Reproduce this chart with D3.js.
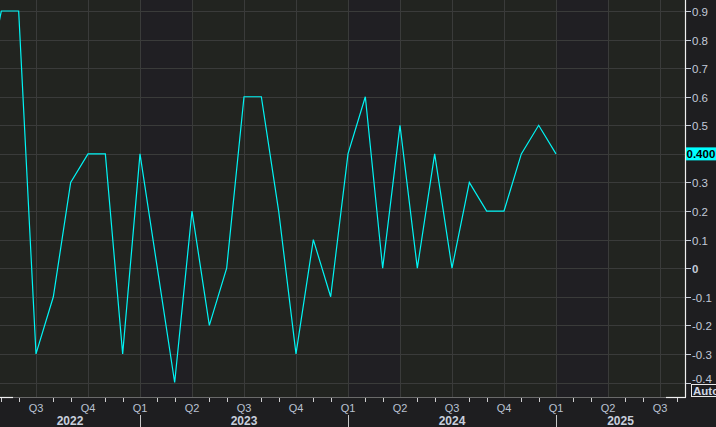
<!DOCTYPE html>
<html><head><meta charset="utf-8">
<script src="https://cdn.jsdelivr.net/npm/d3@7/dist/d3.min.js"></script>
<style>
html,body{margin:0;padding:0;background:#1e1e20;}
svg{display:block;}
text{font-family:"Liberation Sans","DejaVu Sans",sans-serif;}
</style></head>
<body>
<script>
// ---- data ----
const months = ["2022-04","2022-05","2022-06","2022-07","2022-08","2022-09","2022-10","2022-11","2022-12",
  "2023-01","2023-02","2023-03","2023-04","2023-05","2023-06","2023-07","2023-08","2023-09","2023-10","2023-11","2023-12",
  "2024-01","2024-02","2024-03","2024-04","2024-05","2024-06","2024-07","2024-08","2024-09","2024-10","2024-11","2024-12",
  "2025-01"];
const values = [0.6,0.9,0.9,-0.3,-0.1,0.3,0.4,0.4,-0.3,
  0.4,0.0,-0.4,0.2,-0.2,0.0,0.6,0.6,0.2,-0.3,0.1,-0.1,
  0.4,0.6,0.0,0.5,0.0,0.4,0.0,0.3,0.2,0.2,0.4,0.5,
  0.4];
const yTicks = [0.9,0.8,0.7,0.6,0.5,0.4,0.3,0.2,0.1,0,-0.1,-0.2,-0.3,-0.4];
const yTickLabels = ["0.9","0.8","0.7","0.6","0.5","0.4","0.3","0.2","0.1","0","-0.1","-0.2","-0.3","-0.4"];
const quarterLabels = ["Q1","Q2","Q3","Q4"];
const years = [2022,2023,2024,2025];
const lastLabel = "0.400";

// ---- layout ----
const W = 716, H = 427;
const plotL = 0, plotR = 685, plotT = 0, plotB = 397;
const mIdx = s => { const [y,m] = s.split("-").map(Number); return (y-2022)*12 + (m-1); };

const x = d3.scaleLinear().domain([12 - 140/17.3333, 12 + 545/17.3333]).range([plotL, plotR]);
const y = d3.scaleLinear().domain([-0.4, 0.9]).range([382.5, 11]);

const svg = d3.select("body").append("svg").attr("width", W).attr("height", H);
svg.append("rect").attr("width", W).attr("height", H).attr("fill", "#1e1e20");

const defs = svg.append("defs");
defs.append("clipPath").attr("id","clip").append("rect")
  .attr("x",plotL).attr("y",plotT).attr("width",plotR-plotL).attr("height",plotB-plotT);

const plot = svg.append("g").attr("clip-path","url(#clip)");
// background quarter bands
const [d0, d1] = x.domain();
for (let q = Math.floor(d0/3)*3; q < d1; q += 3) {
  const isQ1 = (q % 12) === 0;
  plot.append("rect").attr("x", x(q)).attr("y", plotT)
    .attr("width", x(q+3)-x(q)).attr("height", plotB-plotT)
    .attr("fill", isQ1 ? "#201f23" : "#222420");
}
// horizontal grid
plot.selectAll("line.hg").data(yTicks).enter().append("line")
  .attr("x1",plotL).attr("x2",plotR)
  .attr("y1",d=>Math.round(y(d))+0.5).attr("y2",d=>Math.round(y(d))+0.5)
  .attr("stroke","#3a3b3a").attr("stroke-width",1);
// vertical grid at quarter starts
const qStarts = d3.range(Math.ceil(d0/3)*3, d1, 3);
plot.selectAll("line.vg").data(qStarts).enter().append("line")
  .attr("x1",d=>Math.round(x(d))+0.5).attr("x2",d=>Math.round(x(d))+0.5)
  .attr("y1",plotT).attr("y2",plotB)
  .attr("stroke","#3a3b3a").attr("stroke-width",1);

// line
const line = d3.line().x((d,i)=>x(mIdx(months[i]))).y(d=>y(d));
plot.append("path").datum(values).attr("d", line)
  .attr("fill","none").attr("stroke","#00f5f5").attr("stroke-width",1.2)
  .attr("stroke-linejoin","miter");

// right axis line
svg.append("line").attr("x1",plotR+0.5).attr("x2",plotR+0.5).attr("y1",0).attr("y2",plotB+0.5)
  .attr("stroke","#f0f0f0").attr("stroke-width",1.2);
// bottom axis line
svg.append("line").attr("x1",plotL).attr("x2",plotR).attr("y1",plotB+0.5).attr("y2",plotB+0.5)
  .attr("stroke","#6a6a6a").attr("stroke-width",1);
svg.append("line").attr("x1",0).attr("x2",13).attr("y1",plotB+0.5).attr("y2",plotB+0.5)
  .attr("stroke","#f0f0f0").attr("stroke-width",1.2);
svg.append("line").attr("x1",666).attr("x2",plotR+1).attr("y1",plotB+0.5).attr("y2",plotB+0.5)
  .attr("stroke","#f0f0f0").attr("stroke-width",1.2);

// y ticks & labels
const yAx = svg.append("g");
yTicks.forEach((t,i)=>{
  const yy = Math.round(y(t))+0.5;
  yAx.append("line").attr("x1",plotR+1).attr("x2",plotR+6).attr("y1",yy).attr("y2",yy)
    .attr("stroke","#c8cdd6").attr("stroke-width",1);
  if (t === 0.4) return;
  const ty = (t === -0.4) ? yy - 5 : yy;
  yAx.append("text").attr("x",692).attr("y",ty).attr("dy","0.36em")
    .attr("font-size",11.5).attr("fill","#c3cad8")
    .attr("font-weight", t===0 ? "bold" : "normal")
    .text(yTickLabels[i]);
});
// last value label
const ly = y(values[values.length-1]);
svg.append("rect").attr("x",686).attr("y",ly-6.5).attr("width",32).attr("height",13).attr("fill","#00ffff");
svg.append("text").attr("x",686.5).attr("y",ly).attr("dy","0.36em").attr("font-size",11.5)
  .attr("font-weight","bold").attr("fill","#000").text(lastLabel);

// Auto box
svg.append("rect").attr("x",691.5).attr("y",384.5).attr("width",30).attr("height",12)
  .attr("fill","#1e1e20").attr("stroke","#e8e8e8").attr("stroke-width",1);
svg.append("text").attr("x",693).attr("y",391).attr("dy","0.36em").attr("font-size",11.5)
  .attr("font-weight","bold").attr("fill","#cfd6e4").text("Auto");

// x axis: monthly ticks, quarter labels, year labels
const xa = svg.append("g");
const allM = d3.range(Math.ceil(d0), d1);
allM.forEach(m=>{
  if (m % 3 === 0) {
    xa.append("text").attr("x",x(m)).attr("y",412).attr("text-anchor","middle")
      .attr("font-size",11).attr("fill","#b9c2d2").text(quarterLabels[(m%12)/3]);
    if (m % 12 === 0) {
      xa.append("line").attr("x1",Math.round(x(m))+0.5).attr("x2",Math.round(x(m))+0.5)
        .attr("y1",415).attr("y2",H).attr("stroke","#c8c8c8").attr("stroke-width",1);
    }
  } else {
    xa.append("line").attr("x1",Math.round(x(m))+0.5).attr("x2",Math.round(x(m))+0.5)
      .attr("y1",398).attr("y2",402).attr("stroke","#d0d0d0").attr("stroke-width",1);
  }
});
years.forEach(yr=>{
  const a = Math.max(x((yr-2022)*12), plotL);
  const b = Math.min(x((yr-2022)*12+12), plotR);
  xa.append("text").attr("x",(a+b)/2).attr("y",425).attr("text-anchor","middle")
    .attr("font-size",12).attr("font-weight","bold").attr("fill","#c8cfdc").text(yr);
});
</script>
</body></html>
